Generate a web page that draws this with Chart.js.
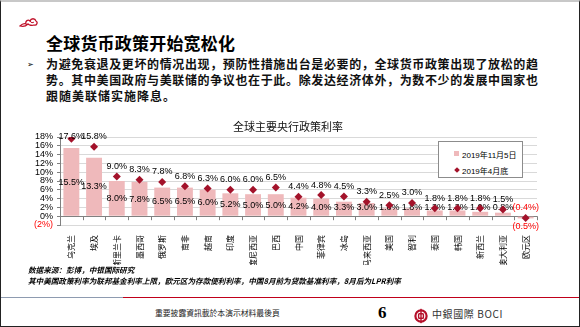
<!DOCTYPE html>
<html>
<head>
<meta charset="utf-8">
<script src="https://cdn.jsdelivr.net/npm/chart.js@4.4.0/dist/chart.umd.js"></script>
<style>
    html, body { margin: 0; padding: 0; background: #fff; }
    body { position: relative; width: 580px; height: 327px; overflow: hidden; font-family: "Noto Sans CJK SC", sans-serif; }
    .frame { position: absolute; left: 0; top: 0; width: 580px; height: 327px; box-sizing: border-box;
             border: 1px solid #222; border-top: 2px solid #c8c8c8; pointer-events: none; }
    .logo-top { position: absolute; left: 19px; top: 15px; }
    .title { position: absolute; left: 46px; top: 30px; font-size: 17px; font-weight: 700; color: #000; letter-spacing: 0.2px; }
    .bullet { position: absolute; left: 27px; top: 58px; font-size: 8px; color: #000; }
    .para { position: absolute; left: 46px; top: 56px; width: 492px; font-size: 12px; font-weight: 700; color: #111; line-height: 16px; }
    .para div { text-align: justify; text-align-last: justify; }
    .para div.last { text-align-last: left; letter-spacing: 1px; }
    .chart-title { position: absolute; left: 188px; width: 200px; top: 118px; text-align: center; font-size: 11px; color: #111; }
    .chart-box { position: absolute; left: 0; top: 110px; width: 580px; height: 155px; }
    .legend { position: absolute; left: 438px; top: 141px; width: 85px; height: 37px; box-sizing: border-box;
              border: 1px solid #8c8c8c; background: #fff; font-family: "Liberation Sans", "Noto Sans CJK SC", sans-serif; font-size: 8px; color: #000; }
    .legend .item { position: absolute; left: 23px; white-space: nowrap; }
    .legend .sw { position: absolute; left: -8px; top: 2px; width: 5px; height: 5px; background: #efb9bb; }
    .legend .dm { position: absolute; left: -7px; top: 3px; width: 4px; height: 4px; background: #a3122a; transform: rotate(45deg); }
    .source { position: absolute; left: 28px; top: 265px; font-size: 7.6px; font-weight: 700; font-style: italic; line-height: 10.5px; color: #000; }
    .rule-gray { position: absolute; left: 1px; top: 297px; width: 122px; height: 1px; background: #8e9bb0; }
    .rule-red { position: absolute; left: 123px; top: 297px; width: 456px; height: 1px; background: #c0001a; }
    .disclaimer { position: absolute; left: 155px; top: 307px; font-size: 7.8px; color: #222; font-family: "Noto Sans CJK TC", sans-serif; }
    .page-no { position: absolute; left: 378px; top: 303px; font-size: 17px; font-weight: 700; font-family: "Liberation Serif", serif; color: #000; }
    .boci { position: absolute; left: 414px; top: 305px; }
    .boci span { position: absolute; left: 18px; top: 1px; font-size: 10px; letter-spacing: 0.6px; color: #333; white-space: nowrap; font-family: "Noto Sans CJK TC", "Liberation Serif", serif; }
</style>
</head>
<body>
<svg class="logo-top" width="20" height="14" viewBox="0 0 20 14">
    <path d="M1 11 C3 9 5 8 7 9 C6 6 9 4 11 6 C12 3 16 3 17 6 C19 7 18 11 15 10 C13 11 10 10 9 9 C7 11 4 12 1 11 Z"
          fill="none" stroke="#c0122a" stroke-width="1.3"/>
    <path d="M11 6 C12 8 14 8 15 7" fill="none" stroke="#c0122a" stroke-width="1"/>
</svg>
<div class="title">全球货币政策开始宽松化</div>
<div class="bullet">➢</div>
<div class="para">
    <div>为避免衰退及更坏的情况出现，预防性措施出台是必要的，全球货币政策出现了放松的趋</div>
    <div>势。其中美国政府与美联储的争议也在于此。除发达经济体外，为数不少的发展中国家也</div>
    <div class="last">跟随美联储实施降息。</div>
</div>

<div class="chart-box"><canvas id="rateChart"></canvas></div>
<div class="chart-title">全球主要央行政策利率</div>
<div class="legend">
    <div class="item" style="top:7px"><i class="sw"></i>2019年11月5日</div>
    <div class="item" style="top:23px"><i class="dm"></i>2019年4月底</div>
</div>

<div class="source">数据来源：彭博，中银国际研究<br>其中美国政策利率为联邦基金利率上限，欧元区为存款便利利率，中国8月前为贷款基准利率，8月后为LPR利率</div>
<div class="rule-gray"></div>
<div class="rule-red"></div>
<div class="disclaimer">重要披露資訊載於本演示材料最後頁</div>
<div class="page-no">6</div>
<div class="boci">
    <svg width="14" height="16" viewBox="0 0 14 16">
        <circle cx="7" cy="8" r="5.6" fill="none" stroke="#b5102a" stroke-width="2.2"/>
        <rect x="4.6" y="5.8" width="4.8" height="4.4" rx="0.8" fill="none" stroke="#b5102a" stroke-width="1.4"/>
        <rect x="6.3" y="0.8" width="1.4" height="14.4" fill="#b5102a"/>
    </svg>
    <span>中銀國際 BOCI</span>
</div>
<div class="frame"></div>

<script>
    // Policy rates by central bank
    const categories = ['乌克兰', '埃及', '斯里兰卡', '墨西哥', '俄罗斯', '南非', '越南', '印度', '印度尼西亚', '巴西',
        '中国', '菲律宾', '冰岛', '马来西亚', '美国', '智利', '泰国', '韩国', '新西兰', '澳大利亚', '欧元区'];
    const ratesNov5 = [15.5, 13.3, 8.0, 7.8, 6.5, 6.5, 6.0, 5.2, 5.0, 5.0,
        4.2, 4.0, 3.3, 3.0, 1.8, 1.8, 1.3, 1.3, 1.0, 0.8, -0.5];
    const ratesAprEnd = [17.6, 15.8, 9.0, 8.3, 7.8, 6.8, 6.3, 6.0, 6.0, 6.5,
        4.4, 4.8, 4.5, 3.3, 2.5, 3.0, 1.8, 1.8, 1.8, 1.5, -0.4];
    const yTicks = [-2, 0, 2, 4, 6, 8, 10, 12, 14, 16, 18];

    const barColor = '#efb9bb';
    const diamondColor = '#a3122a';
    const labelFont = '9px "Liberation Sans", Arial, sans-serif';

    // negatives are shown in brackets, e.g. (0.5%)
    function fmtPct(v) {
        return v < 0 ? '(' + Math.abs(v).toFixed(1) + '%)' : v.toFixed(1) + '%';
    }

    // value labels: bar labels go in under the diamonds, diamond labels on top
    const valueLabels = {
        id: 'valueLabels',
        afterDatasetDraw(chart, args) {
            const ctx = chart.ctx;
            const zeroY = chart.scales.y.getPixelForValue(0);
            ctx.save();
            ctx.font = labelFont;
            ctx.textAlign = 'center';
            ctx.textBaseline = 'middle';
            if (args.index === 0) {
                args.meta.data.forEach((bar, i) => {
                    const v = ratesNov5[i];
                    let y;
                    if (v < 0) {
                        ctx.fillStyle = '#ff0000';
                        y = bar.y + 8;
                    } else {
                        ctx.fillStyle = '#000';
                        y = Math.min((bar.y + zeroY) / 2, zeroY - 9);
                    }
                    ctx.fillText(fmtPct(v), bar.x, y);
                });
            } else if (args.index === 1) {
                args.meta.data.forEach((pt, i) => {
                    const v = ratesAprEnd[i];
                    ctx.fillStyle = v < 0 ? '#ff0000' : '#000';
                    ctx.fillText(fmtPct(v), pt.x, Math.max(pt.y - 10, chart.chartArea.top));
                });
            }
            ctx.restore();
        }
    };

    // short tick marks hanging under the zero line between categories
    const zeroTicks = {
        id: 'zeroTicks',
        beforeDatasetsDraw(chart) {
            const ctx = chart.ctx;
            const area = chart.chartArea;
            const zeroY = chart.scales.y.getPixelForValue(0);
            const step = (area.right - area.left) / categories.length;
            ctx.save();
            ctx.strokeStyle = '#808080';
            ctx.lineWidth = 1;
            ctx.beginPath();
            for (let k = 0; k <= categories.length; k++) {
                const x = Math.round(area.left + k * step) + 0.5;
                ctx.moveTo(x, zeroY);
                ctx.lineTo(x, zeroY + 4);
            }
            ctx.stroke();
            ctx.restore();
        }
    };

    const ctx = document.getElementById('rateChart').getContext('2d');
    new Chart(ctx, {
        data: {
            labels: categories,
            datasets: [{
                type: 'bar',
                label: '2019年11月5日',
                data: ratesNov5,
                backgroundColor: barColor,
                borderWidth: 0,
                barPercentage: 0.7,
                categoryPercentage: 1,
                order: 1
            }, {
                type: 'line',
                label: '2019年4月底',
                data: ratesAprEnd,
                showLine: false,
                pointStyle: 'rectRot',
                pointRadius: 4,
                pointBackgroundColor: diamondColor,
                pointBorderColor: diamondColor,
                pointBorderWidth: 0,
                order: 0
            }]
        },
        options: {
            responsive: true,
            maintainAspectRatio: false,
            animation: false,
            layout: { padding: { top: 27, right: 43, left: 0, bottom: 0 } },
            plugins: {
                legend: { display: false },
                tooltip: { enabled: false }
            },
            scales: {
                x: {
                    grid: { display: false },
                    border: { display: false },
                    ticks: {
                        autoSkip: false,
                        minRotation: 90,
                        maxRotation: 90,
                        padding: 2,
                        color: '#000',
                        font: { family: '"Noto Sans CJK SC", sans-serif', size: 8 }
                    },
                    afterFit(scale) { scale.height = 40; }
                },
                y: {
                    min: -2,
                    max: 18,
                    afterBuildTicks(scale) {
                        scale.ticks = yTicks.map(v => ({ value: v }));
                    },
                    grid: {
                        color: c => c.tick && c.tick.value === 0 ? '#808080' : '#d9d9d9',
                        tickColor: '#808080',
                        tickLength: 3
                    },
                    border: { display: true, color: '#808080' },
                    ticks: {
                        autoSkip: false,
                        padding: 4,
                        callback: v => v < 0 ? '(' + Math.abs(v) + '%)' : v + '%',
                        color: c => c.tick && c.tick.value < 0 ? '#ff0000' : '#000',
                        font: { family: '"Liberation Sans", Arial, sans-serif', size: 9 }
                    },
                    afterFit(scale) { scale.width = 60; }
                }
            }
        },
        plugins: [zeroTicks, valueLabels]
    });
</script>
</body>
</html>
